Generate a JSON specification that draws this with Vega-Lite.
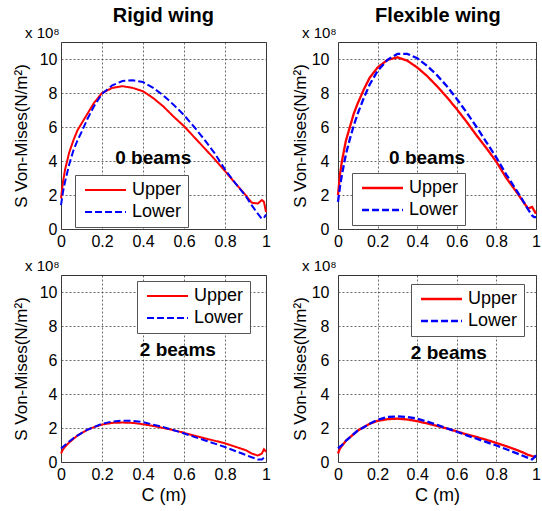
{
  "$schema": "https://vega.github.io/schema/vega-lite/v6.json",
  "padding": {"left": 11, "top": 5, "right": 0, "bottom": 0},
  "background": "white",
  "config": {
    "font": "Liberation Sans",
    "view": {"stroke": "#333", "strokeWidth": 1},
    "axis": {
      "labelFont": "Liberation Sans", "labelFontSize": 16, "labelColor": "black",
      "titleFont": "Liberation Sans", "titleFontSize": 17, "titleFontWeight": "normal", "titleColor": "black",
      "grid": true, "gridDash": [2, 2], "gridColor": "#444", "gridWidth": 0.8,
      "domain": false, "ticks": false, "labelOverlap": false, "labelFlush": false
    },
    "title": {"font": "Liberation Sans", "color": "black"},
    "legend": {"labelFont": "Liberation Sans", "orient": "none", "title": null, "strokeColor": "#555", "fillColor": "white", "padding": 6, "symbolType": "M-0.83,0H6", "symbolSize": 144, "symbolStrokeWidth": 2, "labelFontSize": 18, "labelColor": "black", "rowPadding": 4, "labelOffset": 33, "labelExpr": "datum.label + '   '"}
  },
  "datasets": {
    "curves": [
      {"p":"R0","s":"Upper","c":0,"v":1.8},{"p":"R0","s":"Upper","c":0.01,"v":2.8},{"p":"R0","s":"Upper","c":0.02,"v":3.5},{"p":"R0","s":"Upper","c":0.04,"v":4.5},{"p":"R0","s":"Upper","c":0.06,"v":5.2},{"p":"R0","s":"Upper","c":0.08,"v":5.8},{"p":"R0","s":"Upper","c":0.1,"v":6.2},{"p":"R0","s":"Upper","c":0.13,"v":6.8},{"p":"R0","s":"Upper","c":0.16,"v":7.4},{"p":"R0","s":"Upper","c":0.2,"v":8.0},{"p":"R0","s":"Upper","c":0.25,"v":8.3},{"p":"R0","s":"Upper","c":0.3,"v":8.4},{"p":"R0","s":"Upper","c":0.35,"v":8.3},{"p":"R0","s":"Upper","c":0.4,"v":8.1},{"p":"R0","s":"Upper","c":0.45,"v":7.7},{"p":"R0","s":"Upper","c":0.5,"v":7.2},{"p":"R0","s":"Upper","c":0.55,"v":6.6},{"p":"R0","s":"Upper","c":0.6,"v":6.05},{"p":"R0","s":"Upper","c":0.65,"v":5.4},{"p":"R0","s":"Upper","c":0.7,"v":4.75},{"p":"R0","s":"Upper","c":0.75,"v":4.1},{"p":"R0","s":"Upper","c":0.8,"v":3.4},{"p":"R0","s":"Upper","c":0.85,"v":2.7},{"p":"R0","s":"Upper","c":0.9,"v":2.0},{"p":"R0","s":"Upper","c":0.93,"v":1.55},{"p":"R0","s":"Upper","c":0.96,"v":1.5},{"p":"R0","s":"Upper","c":0.98,"v":1.7},{"p":"R0","s":"Upper","c":0.99,"v":1.6},{"p":"R0","s":"Upper","c":1.0,"v":1.0},
      {"p":"R0","s":"Lower","c":0,"v":1.4},{"p":"R0","s":"Lower","c":0.01,"v":2.2},{"p":"R0","s":"Lower","c":0.02,"v":2.8},{"p":"R0","s":"Lower","c":0.04,"v":3.8},{"p":"R0","s":"Lower","c":0.06,"v":4.6},{"p":"R0","s":"Lower","c":0.08,"v":5.2},{"p":"R0","s":"Lower","c":0.1,"v":5.7},{"p":"R0","s":"Lower","c":0.13,"v":6.5},{"p":"R0","s":"Lower","c":0.16,"v":7.2},{"p":"R0","s":"Lower","c":0.2,"v":7.95},{"p":"R0","s":"Lower","c":0.25,"v":8.45},{"p":"R0","s":"Lower","c":0.3,"v":8.7},{"p":"R0","s":"Lower","c":0.35,"v":8.75},{"p":"R0","s":"Lower","c":0.4,"v":8.65},{"p":"R0","s":"Lower","c":0.45,"v":8.3},{"p":"R0","s":"Lower","c":0.5,"v":7.85},{"p":"R0","s":"Lower","c":0.55,"v":7.3},{"p":"R0","s":"Lower","c":0.6,"v":6.7},{"p":"R0","s":"Lower","c":0.65,"v":6.0},{"p":"R0","s":"Lower","c":0.7,"v":5.25},{"p":"R0","s":"Lower","c":0.75,"v":4.45},{"p":"R0","s":"Lower","c":0.8,"v":3.5},{"p":"R0","s":"Lower","c":0.85,"v":2.7},{"p":"R0","s":"Lower","c":0.9,"v":1.95},{"p":"R0","s":"Lower","c":0.93,"v":1.4},{"p":"R0","s":"Lower","c":0.96,"v":0.9},{"p":"R0","s":"Lower","c":0.98,"v":0.6},{"p":"R0","s":"Lower","c":0.99,"v":0.65},{"p":"R0","s":"Lower","c":1.0,"v":0.85},
      {"p":"F0","s":"Upper","c":0,"v":2.0},{"p":"F0","s":"Upper","c":0.01,"v":3.2},{"p":"F0","s":"Upper","c":0.02,"v":4.0},{"p":"F0","s":"Upper","c":0.04,"v":5.2},{"p":"F0","s":"Upper","c":0.06,"v":6.0},{"p":"F0","s":"Upper","c":0.08,"v":6.8},{"p":"F0","s":"Upper","c":0.1,"v":7.4},{"p":"F0","s":"Upper","c":0.13,"v":8.2},{"p":"F0","s":"Upper","c":0.16,"v":8.9},{"p":"F0","s":"Upper","c":0.2,"v":9.5},{"p":"F0","s":"Upper","c":0.25,"v":9.95},{"p":"F0","s":"Upper","c":0.3,"v":10.1},{"p":"F0","s":"Upper","c":0.35,"v":9.9},{"p":"F0","s":"Upper","c":0.4,"v":9.5},{"p":"F0","s":"Upper","c":0.45,"v":9.0},{"p":"F0","s":"Upper","c":0.5,"v":8.4},{"p":"F0","s":"Upper","c":0.55,"v":7.75},{"p":"F0","s":"Upper","c":0.6,"v":7.05},{"p":"F0","s":"Upper","c":0.65,"v":6.3},{"p":"F0","s":"Upper","c":0.7,"v":5.5},{"p":"F0","s":"Upper","c":0.75,"v":4.75},{"p":"F0","s":"Upper","c":0.8,"v":3.95},{"p":"F0","s":"Upper","c":0.85,"v":3.0},{"p":"F0","s":"Upper","c":0.9,"v":2.2},{"p":"F0","s":"Upper","c":0.93,"v":1.7},{"p":"F0","s":"Upper","c":0.96,"v":1.2},{"p":"F0","s":"Upper","c":0.98,"v":1.3},{"p":"F0","s":"Upper","c":0.99,"v":1.1},{"p":"F0","s":"Upper","c":1.0,"v":0.9},
      {"p":"F0","s":"Lower","c":0,"v":1.6},{"p":"F0","s":"Lower","c":0.01,"v":2.5},{"p":"F0","s":"Lower","c":0.02,"v":3.2},{"p":"F0","s":"Lower","c":0.04,"v":4.4},{"p":"F0","s":"Lower","c":0.06,"v":5.3},{"p":"F0","s":"Lower","c":0.08,"v":6.1},{"p":"F0","s":"Lower","c":0.1,"v":6.8},{"p":"F0","s":"Lower","c":0.13,"v":7.7},{"p":"F0","s":"Lower","c":0.16,"v":8.5},{"p":"F0","s":"Lower","c":0.2,"v":9.3},{"p":"F0","s":"Lower","c":0.25,"v":9.95},{"p":"F0","s":"Lower","c":0.3,"v":10.3},{"p":"F0","s":"Lower","c":0.35,"v":10.3},{"p":"F0","s":"Lower","c":0.4,"v":10.05},{"p":"F0","s":"Lower","c":0.45,"v":9.6},{"p":"F0","s":"Lower","c":0.5,"v":9.05},{"p":"F0","s":"Lower","c":0.55,"v":8.4},{"p":"F0","s":"Lower","c":0.6,"v":7.65},{"p":"F0","s":"Lower","c":0.65,"v":6.85},{"p":"F0","s":"Lower","c":0.7,"v":6.0},{"p":"F0","s":"Lower","c":0.75,"v":5.1},{"p":"F0","s":"Lower","c":0.8,"v":4.2},{"p":"F0","s":"Lower","c":0.85,"v":3.2},{"p":"F0","s":"Lower","c":0.9,"v":2.3},{"p":"F0","s":"Lower","c":0.93,"v":1.75},{"p":"F0","s":"Lower","c":0.96,"v":1.15},{"p":"F0","s":"Lower","c":0.98,"v":0.8},{"p":"F0","s":"Lower","c":0.99,"v":0.7},{"p":"F0","s":"Lower","c":1.0,"v":0.7},
      {"p":"R2","s":"Upper","c":0,"v":0.5},{"p":"R2","s":"Upper","c":0.01,"v":0.75},{"p":"R2","s":"Upper","c":0.02,"v":0.9},{"p":"R2","s":"Upper","c":0.04,"v":1.15},{"p":"R2","s":"Upper","c":0.06,"v":1.35},{"p":"R2","s":"Upper","c":0.08,"v":1.55},{"p":"R2","s":"Upper","c":0.1,"v":1.7},{"p":"R2","s":"Upper","c":0.13,"v":1.9},{"p":"R2","s":"Upper","c":0.16,"v":2.05},{"p":"R2","s":"Upper","c":0.2,"v":2.2},{"p":"R2","s":"Upper","c":0.25,"v":2.3},{"p":"R2","s":"Upper","c":0.3,"v":2.32},{"p":"R2","s":"Upper","c":0.35,"v":2.3},{"p":"R2","s":"Upper","c":0.4,"v":2.22},{"p":"R2","s":"Upper","c":0.45,"v":2.12},{"p":"R2","s":"Upper","c":0.5,"v":2.0},{"p":"R2","s":"Upper","c":0.55,"v":1.87},{"p":"R2","s":"Upper","c":0.6,"v":1.72},{"p":"R2","s":"Upper","c":0.65,"v":1.55},{"p":"R2","s":"Upper","c":0.7,"v":1.4},{"p":"R2","s":"Upper","c":0.75,"v":1.25},{"p":"R2","s":"Upper","c":0.8,"v":1.1},{"p":"R2","s":"Upper","c":0.85,"v":0.9},{"p":"R2","s":"Upper","c":0.9,"v":0.7},{"p":"R2","s":"Upper","c":0.93,"v":0.5},{"p":"R2","s":"Upper","c":0.96,"v":0.38},{"p":"R2","s":"Upper","c":0.98,"v":0.5},{"p":"R2","s":"Upper","c":0.99,"v":0.75},{"p":"R2","s":"Upper","c":1.0,"v":0.6},
      {"p":"R2","s":"Lower","c":0,"v":0.8},{"p":"R2","s":"Lower","c":0.01,"v":0.9},{"p":"R2","s":"Lower","c":0.02,"v":1.0},{"p":"R2","s":"Lower","c":0.04,"v":1.2},{"p":"R2","s":"Lower","c":0.06,"v":1.4},{"p":"R2","s":"Lower","c":0.08,"v":1.55},{"p":"R2","s":"Lower","c":0.1,"v":1.7},{"p":"R2","s":"Lower","c":0.13,"v":1.9},{"p":"R2","s":"Lower","c":0.16,"v":2.05},{"p":"R2","s":"Lower","c":0.2,"v":2.25},{"p":"R2","s":"Lower","c":0.25,"v":2.38},{"p":"R2","s":"Lower","c":0.3,"v":2.43},{"p":"R2","s":"Lower","c":0.35,"v":2.42},{"p":"R2","s":"Lower","c":0.4,"v":2.35},{"p":"R2","s":"Lower","c":0.45,"v":2.2},{"p":"R2","s":"Lower","c":0.5,"v":2.05},{"p":"R2","s":"Lower","c":0.55,"v":1.87},{"p":"R2","s":"Lower","c":0.6,"v":1.68},{"p":"R2","s":"Lower","c":0.65,"v":1.48},{"p":"R2","s":"Lower","c":0.7,"v":1.28},{"p":"R2","s":"Lower","c":0.75,"v":1.08},{"p":"R2","s":"Lower","c":0.8,"v":0.88},{"p":"R2","s":"Lower","c":0.85,"v":0.65},{"p":"R2","s":"Lower","c":0.9,"v":0.42},{"p":"R2","s":"Lower","c":0.93,"v":0.28},{"p":"R2","s":"Lower","c":0.96,"v":0.15},{"p":"R2","s":"Lower","c":0.98,"v":0.15},{"p":"R2","s":"Lower","c":0.99,"v":0.25},{"p":"R2","s":"Lower","c":1.0,"v":0.35},
      {"p":"F2","s":"Upper","c":0,"v":0.5},{"p":"F2","s":"Upper","c":0.01,"v":0.8},{"p":"F2","s":"Upper","c":0.02,"v":0.95},{"p":"F2","s":"Upper","c":0.04,"v":1.25},{"p":"F2","s":"Upper","c":0.06,"v":1.45},{"p":"F2","s":"Upper","c":0.08,"v":1.65},{"p":"F2","s":"Upper","c":0.1,"v":1.85},{"p":"F2","s":"Upper","c":0.13,"v":2.05},{"p":"F2","s":"Upper","c":0.16,"v":2.25},{"p":"F2","s":"Upper","c":0.2,"v":2.42},{"p":"F2","s":"Upper","c":0.25,"v":2.52},{"p":"F2","s":"Upper","c":0.3,"v":2.55},{"p":"F2","s":"Upper","c":0.35,"v":2.5},{"p":"F2","s":"Upper","c":0.4,"v":2.4},{"p":"F2","s":"Upper","c":0.45,"v":2.27},{"p":"F2","s":"Upper","c":0.5,"v":2.12},{"p":"F2","s":"Upper","c":0.55,"v":1.97},{"p":"F2","s":"Upper","c":0.6,"v":1.8},{"p":"F2","s":"Upper","c":0.65,"v":1.62},{"p":"F2","s":"Upper","c":0.7,"v":1.47},{"p":"F2","s":"Upper","c":0.75,"v":1.3},{"p":"F2","s":"Upper","c":0.8,"v":1.12},{"p":"F2","s":"Upper","c":0.85,"v":0.93},{"p":"F2","s":"Upper","c":0.9,"v":0.72},{"p":"F2","s":"Upper","c":0.93,"v":0.58},{"p":"F2","s":"Upper","c":0.96,"v":0.42},{"p":"F2","s":"Upper","c":0.98,"v":0.35},{"p":"F2","s":"Upper","c":0.99,"v":0.32},{"p":"F2","s":"Upper","c":1.0,"v":0.3},
      {"p":"F2","s":"Lower","c":0,"v":0.8},{"p":"F2","s":"Lower","c":0.01,"v":0.9},{"p":"F2","s":"Lower","c":0.02,"v":1.0},{"p":"F2","s":"Lower","c":0.04,"v":1.25},{"p":"F2","s":"Lower","c":0.06,"v":1.45},{"p":"F2","s":"Lower","c":0.08,"v":1.65},{"p":"F2","s":"Lower","c":0.1,"v":1.85},{"p":"F2","s":"Lower","c":0.13,"v":2.05},{"p":"F2","s":"Lower","c":0.16,"v":2.25},{"p":"F2","s":"Lower","c":0.2,"v":2.48},{"p":"F2","s":"Lower","c":0.25,"v":2.65},{"p":"F2","s":"Lower","c":0.3,"v":2.68},{"p":"F2","s":"Lower","c":0.35,"v":2.65},{"p":"F2","s":"Lower","c":0.4,"v":2.55},{"p":"F2","s":"Lower","c":0.45,"v":2.38},{"p":"F2","s":"Lower","c":0.5,"v":2.18},{"p":"F2","s":"Lower","c":0.55,"v":1.98},{"p":"F2","s":"Lower","c":0.6,"v":1.78},{"p":"F2","s":"Lower","c":0.65,"v":1.57},{"p":"F2","s":"Lower","c":0.7,"v":1.37},{"p":"F2","s":"Lower","c":0.75,"v":1.17},{"p":"F2","s":"Lower","c":0.8,"v":0.97},{"p":"F2","s":"Lower","c":0.85,"v":0.75},{"p":"F2","s":"Lower","c":0.9,"v":0.52},{"p":"F2","s":"Lower","c":0.93,"v":0.38},{"p":"F2","s":"Lower","c":0.96,"v":0.24},{"p":"F2","s":"Lower","c":0.98,"v":0.15},{"p":"F2","s":"Lower","c":0.99,"v":0.25},{"p":"F2","s":"Lower","c":1.0,"v":0.4}
    ],
    "notes": [
      {"p":"R0","t":"0 beams","c":0.45,"v":4.2},
      {"p":"F0","t":"0 beams","c":0.45,"v":4.2},
      {"p":"R2","t":"2 beams","c":0.57,"v":6.6},
      {"p":"F2","t":"2 beams","c":0.56,"v":6.4}
    ]
  },
  "resolve": {"scale": {"color": "independent", "strokeDash": "independent"}, "legend": {"color": "independent", "strokeDash": "independent"}},
  "spacing": 19,
  "hconcat": [
    {
      "title": {"text": "Rigid wing", "fontSize": 20, "fontWeight": "bold", "anchor": "middle", "offset": 0, "dx": 22},
      "spacing": 8,
      "resolve": {"scale": {"color": "independent", "strokeDash": "independent"}, "legend": {"color": "independent", "strokeDash": "independent"}},
      "vconcat": [
        {
          "width": 205, "height": 187,
          "title": {"text": "x 10⁸", "anchor": "start", "frame": "group", "dx": -36, "fontSize": 15, "fontWeight": "normal", "offset": 1},
          "encoding": {
            "x": {"field": "c", "type": "quantitative", "scale": {"domain": [0, 1], "nice": false}, "axis": {"values": [0, 0.2, 0.4, 0.6, 0.8, 1], "format": "~g", "title": null, "labelPadding": 4, "labelOverlap": false}},
            "y": {"field": "v", "type": "quantitative", "scale": {"domain": [0, 11], "nice": false}, "axis": {"values": [0, 2, 4, 6, 8, 10], "title": "S Von-Mises(N/m²)", "labelPadding": 4, "titlePadding": 9, "labelOverlap": false}}
          },
          "layer": [
            {
              "data": {"name": "curves"},
              "transform": [{"filter": "datum.p === 'R0'"}],
              "mark": {"type": "line", "strokeWidth": 2},
              "encoding": {
                "color": {"field": "s", "type": "nominal", "scale": {"domain": ["Upper", "Lower"], "range": ["#ff0000", "#0000ff"]}, "legend": {"legendX": 14, "legendY": 133}},
                "strokeDash": {"field": "s", "type": "nominal", "scale": {"domain": ["Upper", "Lower"], "range": [[1, 0], [7, 3]]}, "legend": {"legendX": 14, "legendY": 133}}
              }
            },
            {
              "data": {"name": "notes"},
              "transform": [{"filter": "datum.p === 'R0'"}],
              "mark": {"type": "text", "fontSize": 19, "fontWeight": "bold", "color": "black"},
              "encoding": {"text": {"field": "t"}}
            }
          ]
        },
        {
          "width": 205, "height": 187,
          "title": {"text": "x 10⁸", "anchor": "start", "frame": "group", "dx": -36, "fontSize": 15, "fontWeight": "normal", "offset": 1},
          "encoding": {
            "x": {"field": "c", "type": "quantitative", "scale": {"domain": [0, 1], "nice": false}, "axis": {"values": [0, 0.2, 0.4, 0.6, 0.8, 1], "format": "~g", "title": "C (m)", "labelPadding": 4, "titleFontSize": 18, "titlePadding": 4, "labelOverlap": false}},
            "y": {"field": "v", "type": "quantitative", "scale": {"domain": [0, 11], "nice": false}, "axis": {"values": [0, 2, 4, 6, 8, 10], "title": "S Von-Mises(N/m²)", "labelPadding": 4, "titlePadding": 9, "labelOverlap": false}}
          },
          "layer": [
            {
              "data": {"name": "curves"},
              "transform": [{"filter": "datum.p === 'R2'"}],
              "mark": {"type": "line", "strokeWidth": 2},
              "encoding": {
                "color": {"field": "s", "type": "nominal", "scale": {"domain": ["Upper", "Lower"], "range": ["#ff0000", "#0000ff"]}, "legend": {"legendX": 76, "legendY": 6}},
                "strokeDash": {"field": "s", "type": "nominal", "scale": {"domain": ["Upper", "Lower"], "range": [[1, 0], [7, 3]]}, "legend": {"legendX": 76, "legendY": 6}}
              }
            },
            {
              "data": {"name": "notes"},
              "transform": [{"filter": "datum.p === 'R2'"}],
              "mark": {"type": "text", "fontSize": 19, "fontWeight": "bold", "color": "black"},
              "encoding": {"text": {"field": "t"}}
            }
          ]
        }
      ]
    },
    {
      "title": {"text": "Flexible wing", "fontSize": 20, "fontWeight": "bold", "anchor": "middle", "offset": 0, "dx": 22},
      "spacing": 8,
      "resolve": {"scale": {"color": "independent", "strokeDash": "independent"}, "legend": {"color": "independent", "strokeDash": "independent"}},
      "vconcat": [
        {
          "width": 198, "height": 187,
          "title": {"text": "x 10⁸", "anchor": "start", "frame": "group", "dx": -36, "fontSize": 15, "fontWeight": "normal", "offset": 1},
          "encoding": {
            "x": {"field": "c", "type": "quantitative", "scale": {"domain": [0, 1], "nice": false}, "axis": {"values": [0, 0.2, 0.4, 0.6, 0.8, 1], "format": "~g", "title": null, "labelPadding": 4, "labelOverlap": false}},
            "y": {"field": "v", "type": "quantitative", "scale": {"domain": [0, 11], "nice": false}, "axis": {"values": [0, 2, 4, 6, 8, 10], "title": "S Von-Mises(N/m²)", "labelPadding": 9, "titlePadding": 2, "labelOverlap": false}}
          },
          "layer": [
            {
              "data": {"name": "curves"},
              "transform": [{"filter": "datum.p === 'F0'"}],
              "mark": {"type": "line", "strokeWidth": 2.3},
              "encoding": {
                "color": {"field": "s", "type": "nominal", "scale": {"domain": ["Upper", "Lower"], "range": ["#ff0000", "#0000ff"]}, "legend": {"legendX": 14, "legendY": 131, "symbolStrokeWidth": 2.5}},
                "strokeDash": {"field": "s", "type": "nominal", "scale": {"domain": ["Upper", "Lower"], "range": [[1, 0], [7, 3]]}, "legend": {"legendX": 14, "legendY": 131, "symbolStrokeWidth": 2.5}}
              }
            },
            {
              "data": {"name": "notes"},
              "transform": [{"filter": "datum.p === 'F0'"}],
              "mark": {"type": "text", "fontSize": 19, "fontWeight": "bold", "color": "black"},
              "encoding": {"text": {"field": "t"}}
            }
          ]
        },
        {
          "width": 198, "height": 187,
          "title": {"text": "x 10⁸", "anchor": "start", "frame": "group", "dx": -36, "fontSize": 15, "fontWeight": "normal", "offset": 1},
          "encoding": {
            "x": {"field": "c", "type": "quantitative", "scale": {"domain": [0, 1], "nice": false}, "axis": {"values": [0, 0.2, 0.4, 0.6, 0.8, 1], "format": "~g", "title": "C (m)", "labelPadding": 4, "titleFontSize": 18, "titlePadding": 4, "labelOverlap": false}},
            "y": {"field": "v", "type": "quantitative", "scale": {"domain": [0, 11], "nice": false}, "axis": {"values": [0, 2, 4, 6, 8, 10], "title": "S Von-Mises(N/m²)", "labelPadding": 9, "titlePadding": 2, "labelOverlap": false}}
          },
          "layer": [
            {
              "data": {"name": "curves"},
              "transform": [{"filter": "datum.p === 'F2'"}],
              "mark": {"type": "line", "strokeWidth": 2.3},
              "encoding": {
                "color": {"field": "s", "type": "nominal", "scale": {"domain": ["Upper", "Lower"], "range": ["#ff0000", "#0000ff"]}, "legend": {"legendX": 73, "legendY": 9, "symbolStrokeWidth": 2.5}},
                "strokeDash": {"field": "s", "type": "nominal", "scale": {"domain": ["Upper", "Lower"], "range": [[1, 0], [7, 3]]}, "legend": {"legendX": 73, "legendY": 9, "symbolStrokeWidth": 2.5}}
              }
            },
            {
              "data": {"name": "notes"},
              "transform": [{"filter": "datum.p === 'F2'"}],
              "mark": {"type": "text", "fontSize": 19, "fontWeight": "bold", "color": "black"},
              "encoding": {"text": {"field": "t"}}
            }
          ]
        }
      ]
    }
  ]
}
